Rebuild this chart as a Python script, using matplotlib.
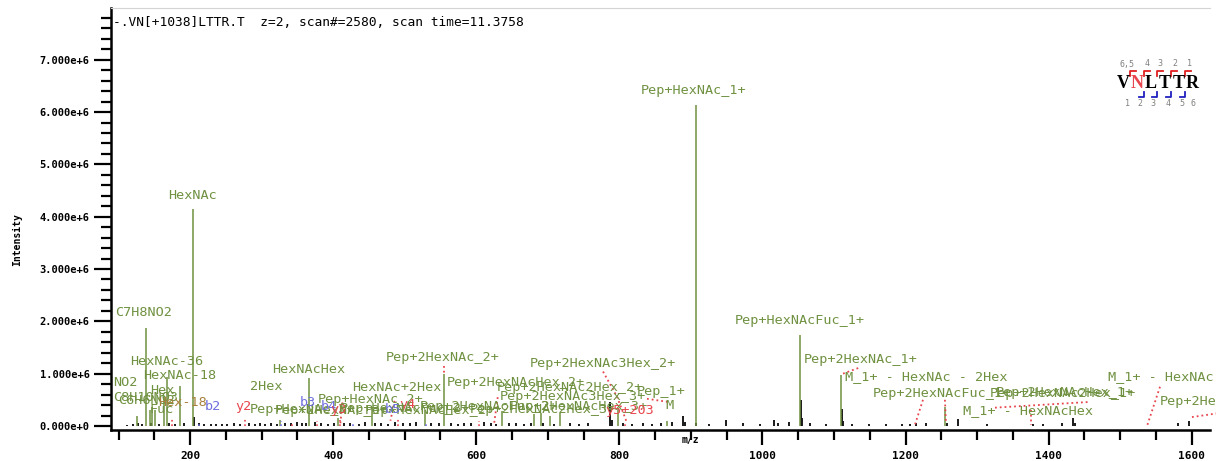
import matplotlib
matplotlib.use("Agg")
import matplotlib.pyplot as plt
from matplotlib.ticker import MultipleLocator, FuncFormatter

# ---- donnees lues sur le spectre (m/z, intensite en 1e6) ----
# pics annotes (verts)
green_mz = [126.05, 138.05, 144.07, 147.07, 151.0, 163.06, 168.07, 186.08, 204.09,
            325.11, 366.14, 407.17, 453.75, 528.19, 555.29, 636.30, 681.0, 690.0,
            703.41, 717.30, 798.36, 867.0, 906.49, 1052.55, 1109.57, 1255.63]
green_int = [0.20, 1.88, 0.30, 0.36, 0.30, 0.55, 0.94, 0.77, 4.15,
             0.12, 0.92, 0.15, 0.37, 0.30, 1.00, 0.28, 0.22, 0.24,
             0.20, 0.25, 0.35, 0.10, 6.13, 1.73, 0.98, 0.37]

# pics non annotes (noirs)
black_mz = [112.1, 120.1, 127.0, 133.1, 145.1, 157.1, 170.1, 179.1, 192.1, 205.1,
            212.1, 219.1, 229.1, 236.1, 245.1, 252.1, 262.1, 270.1, 282.1, 290.1,
            298.1, 305.1, 313.1, 321.1, 333.1, 341.1, 349.1, 356.1, 362.1, 374.1,
            383.1, 392.1, 401.1, 415.1, 424.1, 436.1, 445.1, 459.1, 467.1, 476.1,
            486.1, 498.1, 507.1, 515.1, 537.1, 548.1, 564.1, 575.1, 583.1, 592.1,
            611.1, 620.1, 628.1, 645.1, 655.1, 667.1, 677.1, 693.1, 709.1, 731.1,
            744.1, 756.1, 787.4, 790.2, 805.2, 818.2, 833.2, 846.2, 858.2, 874.2,
            889.3, 892.3, 907.5, 925.4, 948.4, 972.4, 996.4, 1016.5, 1021.4, 1036.5,
            1053.5, 1055.5, 1066.5, 1088.5, 1110.6, 1112.6, 1125.5, 1148.5, 1172.6, 1195.5,
            1205.6, 1214.6, 1228.6, 1258.6, 1272.6, 1313.6, 1378.7, 1392.6, 1418.7, 1434.7,
            1436.7, 1580.8, 1596.8]
black_int = [0.02, 0.04, 0.05, 0.03, 0.06, 0.04, 0.05, 0.04, 0.06, 0.17,
             0.05, 0.03, 0.04, 0.03, 0.04, 0.03, 0.05, 0.04, 0.06, 0.04,
             0.05, 0.03, 0.05, 0.04, 0.06, 0.05, 0.08, 0.05, 0.06, 0.07,
             0.05, 0.04, 0.06, 0.05, 0.06, 0.04, 0.07, 0.05, 0.06, 0.04,
             0.08, 0.06, 0.05, 0.07, 0.05, 0.06, 0.05, 0.04, 0.06, 0.05,
             0.07, 0.05, 0.04, 0.06, 0.05, 0.04, 0.06, 0.05, 0.04, 0.05,
             0.04, 0.05, 0.45, 0.12, 0.06, 0.04, 0.05, 0.04, 0.06, 0.08,
             0.20, 0.08, 0.06, 0.03, 0.12, 0.05, 0.04, 0.12, 0.05, 0.07,
             0.50, 0.15, 0.06, 0.04, 0.33, 0.10, 0.04, 0.03, 0.04, 0.03,
             0.04, 0.06, 0.05, 0.05, 0.13, 0.04, 0.04, 0.03, 0.05, 0.16,
             0.06, 0.05, 0.10]

# ions y (rouge) et b (bleu)
y_mz = [175.12, 276.17, 342.0, 377.21, 410.0, 490.30, 604.34, 807.4]
y_int = [0.16, 0.14, 0.08, 0.10, 0.12, 0.15, 0.10, 0.08]
b_mz = [213.12, 327.20, 428.25, 529.30]
b_int = [0.08, 0.10, 0.08, 0.07]

# ---- etiquettes (texte, m/z, intensite 1e6, couleur, alignement) ----
GREEN = "#6f9140"
RED = "#e8464e"
BLUE = "#6f6fe0"
BROWN = "#a8803c"
labels = [
    ("C7H8NO2", 95.1, 2.17, GREEN, "left"),
    ("HexNAc", 204.1, 4.40, GREEN, "center"),
    ("HexNAc-36", 116.1, 1.23, GREEN, "left"),
    ("HexNAc-18", 134.2, 0.96, GREEN, "left"),
    ("NO2", 92.3, 0.83, GREEN, "left"),
    ("Hex", 144.0, 0.67, GREEN, "left"),
    ("C8H10NO3", 92.3, 0.54, GREEN, "left"),
    ("C6H6NO2", 100.0, 0.48, GREEN, "left"),
    ("Hex-18", 155.0, 0.44, BROWN, "left"),
    ("Fuc", 144.0, 0.31, GREEN, "left"),
    ("b2", 221.0, 0.37, BLUE, "left"),
    ("y2", 263.0, 0.37, RED, "left"),
    ("2Hex", 283.8, 0.75, GREEN, "left"),
    ("Pep+HexNAc_3+", 283.8, 0.31, GREEN, "left"),
    ("Pep+2HexNAc_3+", 318.7, 0.29, GREEN, "left"),
    ("b3", 354.0, 0.44, BLUE, "left"),
    ("b4", 382.0, 0.37, BLUE, "left"),
    ("HexNAcHex", 314.5, 1.08, GREEN, "left"),
    ("Pep+HexNAc_2+", 378.9, 0.50, GREEN, "left"),
    ("HexNAc+2Hex", 426.4, 0.73, GREEN, "left"),
    ("y3", 395.6, 0.31, RED, "left"),
    ("y4", 493.0, 0.42, RED, "left"),
    ("Pep+HexNAcFuc_2+", 409.6, 0.33, GREEN, "left"),
    ("Pep+HexNAcHex_2+", 444.5, 0.29, GREEN, "left"),
    ("b5", 472.0, 0.31, BLUE, "left"),
    ("Pep+2HexNAcFuc_2+", 521.0, 0.38, GREEN, "left"),
    ("Pep+2HexNAc2Hex_3+", 591.0, 0.31, GREEN, "left"),
    ("Pep+2HexNAc_2+", 473.9, 1.31, GREEN, "left"),
    ("Pep+2HexNAcHex_2+", 559.2, 0.83, GREEN, "left"),
    ("Pep+2HexNAc2Hex_2+", 629.1, 0.73, GREEN, "left"),
    ("Pep+2HexNAc3Hex_3+", 633.0, 0.56, GREEN, "left"),
    ("Pep+2HexNAcHex_3+", 647.0, 0.38, GREEN, "left"),
    ("Pep+2HexNAc3Hex_2+", 675.2, 1.19, GREEN, "left"),
    ("y5+203", 780.0, 0.29, RED, "left"),
    ("Pep_1+", 824.6, 0.65, GREEN, "left"),
    ("M", 863.8, 0.40, GREEN, "left"),
    ("Pep+HexNAc_1+", 904.4, 6.42, GREEN, "center"),
    ("Pep+HexNAcFuc_1+", 961.7, 2.02, GREEN, "left"),
    ("Pep+2HexNAc_1+", 1058.1, 1.27, GREEN, "left"),
    ("M_1+ - HexNAc - 2Hex", 1115.4, 0.94, GREEN, "left"),
    ("Pep+2HexNAcFuc_1+", 1154.5, 0.63, GREEN, "left"),
    ("Pep+2HexNAc2Hex_1+", 1318.0, 0.62, GREEN, "left"),
    ("Pep+2HexNAcHex_1+", 1326.0, 0.64, GREEN, "left"),
    ("M_1+ - HexNAcHex", 1280.3, 0.29, GREEN, "left"),
    ("M_1+ - HexNAc", 1482.9, 0.94, GREEN, "left"),
    ("Pep+2HexNAc3Hex_1+", 1555.6, 0.46, GREEN, "left"),
]

# traits pointilles rouges (liaison etiquette -> pic)
leaders = [
    ([777.2, 796.7, 810.7], [1.04, 0.56, 0.06]),
    ([555.3, 555.3], [1.15, 1.02]),
    ([838.6, 868.0], [0.52, 0.46]),
    ([1112.6, 1136.4], [1.00, 1.12]),
    ([1224.3, 1213.1], [0.50, 0.02]),
    ([1255.0, 1256.5], [0.50, 0.06]),
    ([1325.0, 1457.8], [0.35, 0.46]),
    ([1375.3, 1375.3], [0.31, 0.02]),
    ([1555.6, 1537.5], [0.75, 0.00]),
    ([1600.3, 1640.0], [0.17, 0.25]),
    ([413.0, 410.0], [0.45, 0.05]),
    ([486.0, 480.0], [0.48, 0.10]),
    ([630.0, 625.0], [0.55, 0.05]),
]

# ---- figure ----
plt.rcParams['font.family'] = 'DejaVu Sans Mono'
W, H = 1216, 461
fig = plt.figure(figsize=(W / 100, H / 100), dpi=100)
ax = fig.add_axes([110.5 / W, 31 / H, 1099.5 / W, 422 / H])

ax.vlines(black_mz, 0, [v * 1e6 for v in black_int], color="#1a1a1a", lw=1.4)
ax.vlines(green_mz, 0, [v * 1e6 for v in green_int], color=GREEN, lw=1.1)
ax.vlines(y_mz, 0, [v * 1e6 for v in y_int], color=RED, lw=1.2, linestyles=":")
ax.vlines(b_mz, 0, [v * 1e6 for v in b_int], color=BLUE, lw=1.2, linestyles=":")

for xs, ys in leaders:
    ax.plot(xs, [v * 1e6 for v in ys], ls=":", color=RED, lw=1.3, clip_on=False)

for txt, x, y, c, ha in labels:
    ax.text(x, y * 1e6, txt, color=c, ha=ha, va="center", fontsize=9.7, clip_on=False)

ax.set_xlim(88.8, 1625.5)
ax.set_ylim(-0.077e6, 7.99e6)

ax.xaxis.set_major_locator(MultipleLocator(200))
ax.xaxis.set_minor_locator(MultipleLocator(50))
ax.yaxis.set_major_locator(MultipleLocator(1e6))
ax.yaxis.set_minor_locator(MultipleLocator(0.2e6))
ax.yaxis.set_major_formatter(FuncFormatter(
    lambda v, p: "0.000e+0" if abs(v) < 1 else f"{v / 1e6:.3f}e+6"))

ax.tick_params(axis='x', which='major', length=11, width=1.6, labelsize=8, pad=4)
ax.tick_params(axis='x', which='minor', length=7, width=1.6)
ax.tick_params(axis='y', which='major', length=12, width=1.6, labelsize=7.5, pad=3)
ax.tick_params(axis='y', which='minor', length=7, width=1.6)
plt.setp(ax.get_xticklabels() + ax.get_yticklabels(), fontweight='bold')

ax.spines['right'].set_visible(False)
ax.spines['top'].set_color('#d4d4d4')
ax.spines['left'].set_linewidth(1.8)
ax.spines['bottom'].set_linewidth(1.8)

fig.text(113 / W, 1 - 23 / H, "-.VN[+1038]LTTR.T  z=2, scan#=2580, scan time=11.3758",
         fontsize=9.3, va="center", ha="left")
fig.text(17 / W, 1 - 240 / H, "Intensity", rotation=90, fontsize=7, fontweight='bold',
         ha="center", va="center")
fig.text(690 / W, 1 - 440 / H, "m/z", fontsize=7, fontweight='bold', ha="center", va="center")

# ---- sequence du peptide (en haut a droite) ----
ov = fig.add_axes([0, 0, 1, 1], zorder=5)
ov.set_xlim(0, W)
ov.set_ylim(H, 0)
ov.axis('off')
ov.patch.set_alpha(0)
seq = "VNLTTR"
for i, ch in enumerate(seq):
    ov.text(1123 + i * 13.8, 84, ch, ha="center", va="center", fontsize=13,
            family="Liberation Serif", fontweight="bold",
            color=RED if i == 1 else "black")
for xb, num in zip([1127, 1147, 1160, 1175, 1190], ["6,5", "4", "3", "2", "1"]):
    ov.text(xb, 64, num, ha="center", va="center", fontsize=6, color="#808080")
for xb in [1130, 1144, 1157, 1171, 1185]:
    ov.plot([xb, xb, xb + 6], [76, 71, 71], color="#e02020", lw=1.3)
for xb in [1144, 1157, 1171, 1185]:
    ov.plot([xb - 5, xb, xb], [97, 97, 92], color="#2020c0", lw=1.3)
for xb, num in zip([1127, 1140, 1153, 1168, 1182, 1193], ["1", "2", "3", "4", "5", "6"]):
    ov.text(xb, 103, num, ha="center", va="center", fontsize=6, color="#808080")

fig.savefig("out.png", dpi=100)
